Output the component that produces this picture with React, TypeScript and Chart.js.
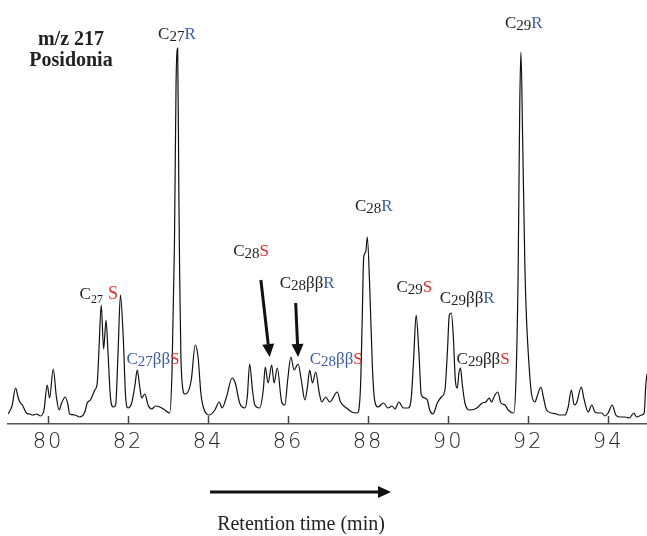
import React, { useEffect, useRef } from "react";
import { Chart, registerables } from "chart.js";

Chart.register(...registerables);

// Retention time (min)
const retentionTimes = [
  79.0, 79.1, 79.19, 79.25, 79.31, 79.36, 79.46, 79.54, 79.62, 79.72, 79.81, 79.9, 79.98,
  80.04, 80.13, 80.21, 80.28, 80.34, 80.43, 80.5, 80.54, 80.67, 80.79, 80.92, 80.98,
  81.06, 81.17, 81.23, 81.27, 81.33, 81.39, 81.45, 81.5, 81.56, 81.63, 81.69, 81.75,
  81.81, 81.88, 81.94, 82.0, 82.09, 82.17, 82.23, 82.29, 82.34, 82.42, 82.5, 82.59,
  82.69, 82.79, 82.92, 83.04, 83.1, 83.16, 83.2, 83.24, 83.27, 83.29, 83.32, 83.36,
  83.42, 83.48, 83.58, 83.68, 83.75, 83.82, 83.88, 84.04, 84.17, 84.28, 84.35, 84.46,
  84.6, 84.68, 84.79, 84.92, 84.98, 85.04, 85.11, 85.17, 85.29, 85.38, 85.43, 85.5,
  85.59, 85.65, 85.73, 85.84, 85.92, 85.99, 86.07, 86.15, 86.25, 86.33, 86.42, 86.48,
  86.54, 86.61, 86.69, 86.78, 86.84, 86.94, 87.04, 87.23, 87.31, 87.46, 87.59, 87.73,
  87.81, 87.85, 87.89, 87.94, 87.98, 88.04, 88.11, 88.17, 88.25, 88.38, 88.5, 88.6,
  88.67, 88.77, 88.88, 89.0, 89.08, 89.14, 89.2, 89.27, 89.33, 89.42, 89.48, 89.54,
  89.62, 89.73, 89.83, 89.92, 89.98, 90.03, 90.08, 90.13, 90.18, 90.23, 90.27, 90.31,
  90.35, 90.42, 90.54, 90.67, 90.75, 90.85, 90.94, 91.03, 91.08, 91.17, 91.24, 91.32,
  91.42, 91.5, 91.64, 91.7, 91.75, 91.79, 91.82, 91.86, 91.92, 91.96, 92.03, 92.08,
  92.17, 92.22, 92.32, 92.38, 92.46, 92.59, 92.71, 92.79, 92.92, 93.0, 93.08, 93.15,
  93.21, 93.33, 93.39, 93.5, 93.59, 93.67, 93.75, 93.84, 93.92, 94.0, 94.1, 94.19,
  94.29, 94.42, 94.53, 94.64, 94.71, 94.84, 94.9, 94.94, 94.97,
];

// Detector response (m/z 217, arbitrary units)
const intensity = [
  10, 18, 36, 27, 21, 19, 11, 10, 9, 10, 8, 14, 39,
  26, 55, 27, 14, 21, 27, 19, 10, 9, 7, 12, 21,
  24, 34, 41, 71, 119, 75, 104, 71, 27, 17, 19, 71,
  129, 87, 27, 16, 21, 38, 54, 38, 26, 30, 19, 15,
  18, 17, 14, 11, 54, 180, 340, 376, 230, 150, 70, 38,
  30, 31, 44, 79, 67, 31, 17, 9, 14, 22, 16, 27,
  46, 41, 21, 16, 27, 60, 34, 19, 16, 34, 57, 41,
  59, 41, 56, 22, 19, 44, 67, 54, 60, 44, 24, 36,
  54, 41, 52, 31, 22, 27, 22, 32, 22, 16, 12, 11,
  37, 100, 167, 172, 187, 137, 54, 22, 17, 21, 16, 18,
  15, 22, 16, 16, 27, 67, 109, 71, 29, 26, 24, 14,
  10, 21, 27, 34, 71, 109, 111, 87, 44, 36, 51, 56,
  41, 21, 14, 15, 17, 21, 22, 26, 22, 29, 32, 21,
  19, 14, 11, 50, 154, 320, 372, 290, 154, 104, 54, 31,
  22, 27, 37, 27, 14, 11, 10, 9, 9, 17, 34, 19,
  21, 37, 26, 12, 19, 12, 11, 11, 8, 11, 19, 9,
  7, 7, 6, 11, 7, 9, 11, 39, 50,
];

const tickValues = [80, 82, 84, 86, 88, 90, 92, 94];
const xMin = 79.0;
const xMax = 94.97;

const INK = "#222222";
const BLUE = "#3a5cae";
const RED = "#ee2b2b";
const SERIF = "'Liberation Serif', 'Times New Roman', serif";

type Part = { text: string; color: string; size: number; dy?: number; gap?: number };

const big = (text: string, color: string): Part => ({ text, color, size: 17 });
const num = (text: string, color: string): Part => ({ text, color, size: 15, dy: 2 });

const peakLabels: { t: number; v: number; parts: Part[] }[] = [
  { t: 82.75, v: 391, parts: [big("C", INK), num("27", INK), big("R", BLUE)] },
  { t: 91.42, v: 402, parts: [big("C", INK), num("29", INK), big("R", BLUE)] },
  {
    t: 80.79,
    v: 131,
    parts: [big("C", INK), { text: "27", color: INK, size: 12, dy: 4 }, { text: "S", color: RED, size: 18, gap: 5 }],
  },
  { t: 81.96, v: 66, parts: [big("C", BLUE), num("27", BLUE), big("ββ", BLUE), big("S", RED)] },
  { t: 84.63, v: 174, parts: [big("C", INK), num("28", INK), big("S", RED)] },
  { t: 85.79, v: 142, parts: [big("C", INK), num("28", INK), big("ββ", INK), big("R", BLUE)] },
  { t: 86.54, v: 66, parts: [big("C", BLUE), num("28", BLUE), big("ββ", BLUE), big("S", RED)] },
  { t: 87.67, v: 219, parts: [big("C", INK), num("28", INK), big("R", BLUE)] },
  { t: 88.71, v: 138, parts: [big("C", INK), num("29", INK), big("S", RED)] },
  { t: 89.79, v: 127, parts: [big("C", INK), num("29", INK), big("ββ", INK), big("R", BLUE)] },
  { t: 90.21, v: 66, parts: [big("C", INK), num("29", INK), big("ββ", INK), big("S", RED)] },
];

const pointerArrows = [
  { t0: 85.32, v0: 144, t1: 85.54, v1: 67 },
  { t0: 86.19, v0: 121, t1: 86.25, v1: 67 },
];

function drawRich(ctx: CanvasRenderingContext2D, x: number, yMid: number, parts: Part[]) {
  let cx = x;
  ctx.textAlign = "left";
  ctx.textBaseline = "alphabetic";
  const base = yMid + 6;
  for (const p of parts) {
    cx += p.gap || 0;
    ctx.font = `${p.size}px ${SERIF}`;
    ctx.fillStyle = p.color;
    ctx.fillText(p.text, cx, base + (p.dy || 0));
    cx += ctx.measureText(p.text).width;
  }
}

function drawArrow(ctx: CanvasRenderingContext2D, x0: number, y0: number, x1: number, y1: number, head: number, half: number, lw: number) {
  const ang = Math.atan2(y1 - y0, x1 - x0);
  const bx = x1 - Math.cos(ang) * head;
  const by = y1 - Math.sin(ang) * head;
  ctx.strokeStyle = "#111";
  ctx.fillStyle = "#111";
  ctx.lineWidth = lw;
  ctx.beginPath();
  ctx.moveTo(x0, y0);
  ctx.lineTo(bx, by);
  ctx.stroke();
  ctx.beginPath();
  ctx.moveTo(x1, y1);
  ctx.lineTo(bx + Math.sin(ang) * half, by - Math.cos(ang) * half);
  ctx.lineTo(bx - Math.sin(ang) * half, by + Math.cos(ang) * half);
  ctx.closePath();
  ctx.fill();
}

const decorPlugin = {
  id: "decor",
  beforeDraw(chart: any) {
    // wider tracking for the axis tick labels
    (chart.ctx as any).letterSpacing = "2px";
  },
  afterDraw(chart: any) {
    const { ctx, scales } = chart;
    (ctx as any).letterSpacing = "0px";
    const xs = scales.x;
    const ys = scales.y;
    const bottom = chart.chartArea.bottom;
    ctx.save();
    // inward tick marks
    ctx.strokeStyle = "#444";
    ctx.lineWidth = 1.5;
    for (const tk of xs.ticks) {
      const px = Math.round(xs.getPixelForValue(tk.value)) + 0.5;
      ctx.beginPath();
      ctx.moveTo(px, bottom);
      ctx.lineTo(px, bottom - 8);
      ctx.stroke();
    }
    // peak labels
    for (const l of peakLabels) {
      drawRich(ctx, xs.getPixelForValue(l.t), ys.getPixelForValue(l.v), l.parts);
    }
    // pointer arrows
    for (const a of pointerArrows) {
      drawArrow(
        ctx,
        xs.getPixelForValue(a.t0),
        ys.getPixelForValue(a.v0),
        xs.getPixelForValue(a.t1),
        ys.getPixelForValue(a.v1),
        13,
        6,
        3
      );
    }
    // sample title
    ctx.fillStyle = INK;
    ctx.textAlign = "center";
    ctx.textBaseline = "middle";
    ctx.font = `bold 20px ${SERIF}`;
    ctx.fillText("m/z 217", 71, 40);
    ctx.fillText("Posidonia", 71, 61);
    // axis direction arrow and title
    drawArrow(ctx, 210, 492, 391, 492, 13, 6, 3);
    ctx.fillStyle = INK;
    ctx.font = `20px ${SERIF}`;
    ctx.textAlign = "center";
    ctx.textBaseline = "middle";
    ctx.fillText("Retention time (min)", 301, 525);
    ctx.restore();
  },
};

export default function App() {
  const ref = useRef<HTMLCanvasElement>(null);
  useEffect(() => {
    if (!ref.current) return;
    const chart = new Chart(ref.current, {
      type: "line",
      data: {
        datasets: [
          {
            data: retentionTimes.map((t, i) => ({ x: t, y: intensity[i] })),
            borderColor: "#111",
            borderWidth: 1.2,
            pointRadius: 0,
            cubicInterpolationMode: "monotone",
            fill: false,
          },
        ],
      },
      options: {
        animation: false,
        responsive: false,
        events: [],
        layout: { padding: { left: 8, right: 0, top: 24, bottom: 0 } },
        plugins: { legend: { display: false }, tooltip: { enabled: false } },
        scales: {
          x: {
            type: "linear",
            min: xMin,
            max: xMax,
            afterBuildTicks: (axis: any) => {
              axis.ticks = tickValues.map((v) => ({ value: v }));
            },
            afterFit: (axis: any) => {
              axis.height = 112;
            },
            grid: { display: false, drawTicks: false },
            border: { display: true, color: "#555", width: 1.5 },
            ticks: {
              autoSkip: false,
              maxRotation: 0,
              padding: 6,
              color: "#222",
              font: { family: "'DejaVu Sans', sans-serif", size: 21, weight: "200" },
              callback: (v: any) => String(v),
            },
          },
          y: { display: false, min: 0, max: 400 },
        },
      },
      plugins: [decorPlugin],
    } as any);
    return () => chart.destroy();
  }, []);
  return (
    <div style={{ position: "absolute", left: 0, top: 0, width: 647, height: 536, background: "#fff" }}>
      <canvas ref={ref} width={647} height={536} />
    </div>
  );
}
